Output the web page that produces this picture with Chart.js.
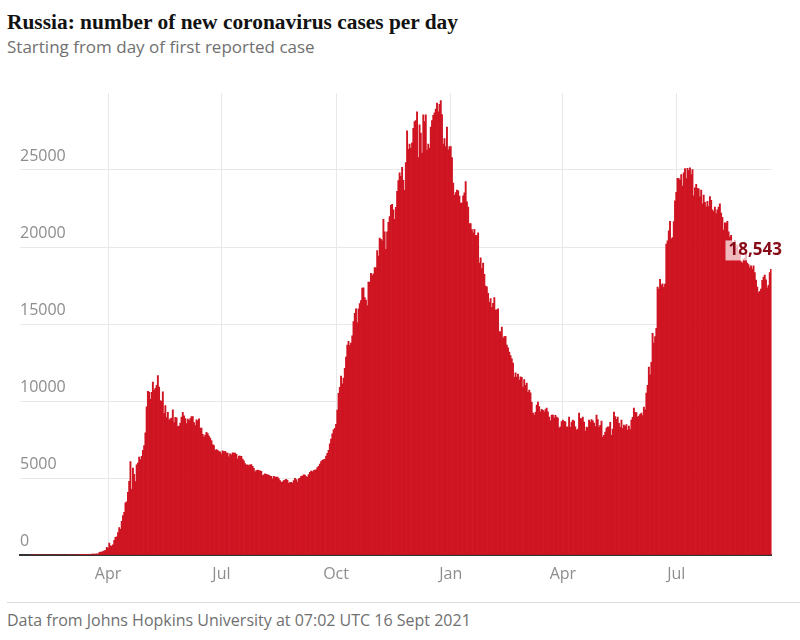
<!DOCTYPE html>
<html>
<head>
<meta charset="utf-8">
<script src="https://cdn.jsdelivr.net/npm/chart.js@4/dist/chart.umd.min.js"></script>
<style>
  body { margin: 0; width: 800px; height: 640px; background: #fff; position: relative; overflow: hidden; }
  #title { position: absolute; left: 7px; top: 10px; font: bold 21.4px/24px "Liberation Serif", serif; color: #121212; }
  #subtitle { position: absolute; left: 7px; top: 37px; font: 17px/20px "Open Sans", sans-serif; color: #707070; }
  #wrap { position: absolute; left: 0; top: 70px; width: 800px; height: 530px; }
  #rule { position: absolute; left: 7px; top: 602px; width: 793px; height: 1px; background: #dcdcdc; }
  #source { position: absolute; left: 7px; top: 610px; font: 16px/20px "Open Sans", sans-serif; color: #707070; }
</style>
</head>
<body>
<div id="title">Russia: number of new coronavirus cases per day</div>
<div id="subtitle">Starting from day of first reported case</div>
<div id="wrap"><canvas id="chart"></canvas></div>
<div id="rule"></div>
<div id="source">Data from Johns Hopkins University at 07:02 UTC 16 Sept 2021</div>
<script>
// daily new cases (first case 31 Jan 2020)
const jan2020 = [2];
const feb2020 = [0,0,0,0,0,0,0,0,0,0,0,0,0,0,0,0,0,0,0,0,0,0,0,0,0,0,0,0,0];
const mar2020 = [0,1,0,0,0,7,0,3,0,3,8,6,17,14,4,30,21,33,52,54,53,61,71,57,163,182,196,228,270,302,500];
const apr2020 = [440,771,601,582,658,954,1154,1175,1459,1786,1667,2186,2558,2774,3388,3448,4070,4785,6060,4268,5642,5236,4774,5849,5966,6361,6198,6411,6800,7099];
const may2020 = [7933,9623,10633,10581,10102,10559,11231,10699,10817,11012,11656,10899,10028,9974,10598,9200,9709,8926,9263,8764,8849,8894,9434,8599,8946,8915,8338,8371,8572,8952,9268];
const jun2020 = [9035,8863,8536,8831,8726,8855,8984,8985,8595,8404,8779,8706,8835,8246,8248,7843,7652,7790,7972,7889,7728,7600,7425,7176,7113,6800,6852,6791,6719,6693];
const jul2020 = [6556,6760,6718,6736,6632,6611,6368,6562,6509,6635,6611,6615,6537,6248,6422,6428,6406,6234,6109,5940,5842,5862,5811,5848,5871,5765,5635,5395,5475,5509,5482];
const aug2020 = [5462,5427,5159,5204,5267,5241,5212,5189,5118,5102,4945,5102,5057,5065,5061,4969,4839,4718,4748,4828,4870,4921,4852,4676,4696,4711,4676,4829,4980,4897,4729];
const sep2020 = [4952,4995,5110,5130,5205,5185,5099,5063,5218,5363,5449,5406,5488,5509,5529,5670,5762,5905,6065,6148,6196,6215,6431,6595,6800,7212,7523,7867,8135,8232];
const oct2020 = [8481,9412,10499,10888,11615,11115,11493,12126,12846,13634,13868,13592,13754,14231,15150,15700,15982,15099,15982,16319,16521,17340,17347,16710,16550,16202,17717,17717,18283,18140,18257];
const nov2020 = [18665,18648,19768,19404,20582,20498,20396,21798,20977,19851,20977,21608,21983,22702,22778,22410,21798,22572,23610,24318,24822,24581,25173,24326,23675,25487,27543,26338,26683,26402];
const dec2020 = [26758,27700,28145,28209,28782,25800,27927,27403,26097,28585,28137,28585,26300,26689,26431,27787,28214,28552,28709,28948,29350,28776,29258,29500,28592,26689,27039,26513,27787,26302,26513];
const jan2021 = [26513,25800,24150,23351,23541,23700,23652,23309,22850,22851,23315,23510,24246,22934,22600,21513,21527,21134,20917,21152,20744,20754,20921,18950,19290,18598,18950,18223,17462,17407,16985];
const feb2021 = [16400,16643,16088,16350,16714,15900,15916,15977,14500,14494,14800,14080,14185,14207,13630,13447,13170,12953,12742,12460,11534,11823,11550,11749,11360,11571,11534,10900];
const mar2021 = [11385,11024,11160,10565,10710,10535,9908,9220,9079,9270,9740,9930,9632,9299,9459,9400,9284,9445,9540,9299,8960,8711,9088,9090,8885,9073,8960,8885,8240,8328,8665];
const apr2021 = [8760,8672,8646,8310,8328,8960,8294,8624,8760,8702,8320,8110,8173,9220,8878,8835,8960,8632,8053,8310,8271,8760,8633,8795,8711,8570,8341,9090,8786,8310];
const may2021 = [8419,8697,7660,7770,7975,8240,8329,8310,8618,7770,8169,9280,8996,8817,8960,8554,8295,8760,8217,8440,8351,8462,8110,8372,8145,8760,8947,9540,9270,9252,8960];
const jun2021 = [9022,9139,9220,9052,9610,9424,10510,11024,12200,11699,12505,14400,13760,14185,14723,17400,17262,17906,17520,17611,17378,17594,20182,20393,21042,21665,20538,20616,21650,23000];
const jul2021 = [23543,24456,24439,24353,24702,23962,24818,25100,24439,25116,24960,25140,24702,25033,23320,23847,24072,23806,23770,23250,23704,22804,23378,22906,22610,22973,22622,23270,23032,22420,22307];
const aug2021 = [22589,22165,22420,22589,22800,22200,21932,21100,21571,21550,21665,20981,20640,20765,20329,19734,20393,19911,20149,19678,19543,19034,18956,19215,19286,19509,18950,18856,18645,18780,18570];
const sep2021 = [18780,18341,17856,17405,17037,17125,17261,17837,18052,18178,17867,17353,17507,18341,18543];

const cases = [].concat(jan2020, feb2020, mar2020, apr2020, may2020, jun2020, jul2020, aug2020,
  sep2020, oct2020, nov2020, dec2020, jan2021, feb2021, mar2021, apr2021, may2021, jun2021,
  jul2021, aug2021, sep2021);

const startDate = "2020-01-31";
const tickDates = ["2020-04-01", "2020-07-01", "2020-10-01", "2021-01-01", "2021-04-01", "2021-07-01"];
const tickLabels = ["Apr", "Jul", "Oct", "Jan", "Apr", "Jul"];
const yTicks = [0, 5000, 10000, 15000, 20000, 25000];

// one date per bar
const dates = cases.map((_, i) => {
  const d = new Date(startDate + "T00:00:00Z");
  d.setUTCDate(d.getUTCDate() + i);
  return d.toISOString().slice(0, 10);
});
const tickIdx = tickDates.map((t) => dates.indexOf(t));

const RED = "#cf1422";
const GRID = "#e8e8e8";
const TEXT = "#8d8d8d";
const FONT = "'Open Sans', sans-serif";

const lastLabel = {
  id: "lastLabel",
  afterDatasetsDraw(chart) {
    const { ctx, scales } = chart;
    const i = cases.length - 1;
    const txt = cases[i].toLocaleString("en-GB");
    const x = scales.x.getPixelForValue(i) + 11;
    const y = scales.y.getPixelForValue(cases[i]) - 19;
    ctx.save();
    ctx.font = "bold 17px " + FONT;
    const w = ctx.measureText(txt).width;
    ctx.fillStyle = "rgba(255,255,255,0.7)";
    ctx.fillRect(x - w - 3, y - 10, w + 5, 20);
    ctx.fillStyle = "#880a16";
    ctx.textAlign = "right";
    ctx.textBaseline = "middle";
    ctx.fillText(txt, x, y);
    ctx.restore();
  },
};

new Chart(document.getElementById("chart"), {
  type: "bar",
  data: {
    datasets: [{
      data: cases.map((v, i) => ({ x: i, y: v })),
      backgroundColor: RED,
      borderWidth: 0,
      barPercentage: 1,
      categoryPercentage: 1,
    }],
  },
  options: {
    responsive: true,
    maintainAspectRatio: false,
    animation: false,
    layout: { padding: { left: 20, right: 28.4, top: 23, bottom: 0 } },
    plugins: { legend: { display: false }, tooltip: { enabled: false } },
    scales: {
      x: {
        type: "linear",
        offset: false,
        min: -9.63,
        max: 593.5,
        afterBuildTicks: (s) => { s.ticks = tickIdx.map((v) => ({ value: v })); },
        afterFit: (s) => { s.height = 45; },
        ticks: {
          autoSkip: false,
          maxRotation: 0,
          padding: 10,
          color: TEXT,
          font: { family: FONT, size: 16 },
          callback: (v) => tickLabels[tickIdx.indexOf(v)] || "",
        },
        grid: { offset: false, color: GRID, drawTicks: false },
        border: { display: true, color: "#333", width: 2 },
      },
      y: {
        min: 0,
        max: 30000,
        afterBuildTicks: (s) => { s.ticks = yTicks.map((v) => ({ value: v })); },
        afterFit: (s) => { s.width = 0; },
        ticks: {
          mirror: true,
          padding: 0,
          labelOffset: -14,
          color: TEXT,
          font: { family: FONT, size: 16 },
          callback: (v) => String(v),
        },
        grid: {
          drawTicks: false,
          color: (c) => (c.tick && c.tick.value === 0 ? "rgba(0,0,0,0)" : GRID),
        },
        border: { display: false },
      },
    },
  },
  plugins: [lastLabel],
});
</script>
</body>
</html>
